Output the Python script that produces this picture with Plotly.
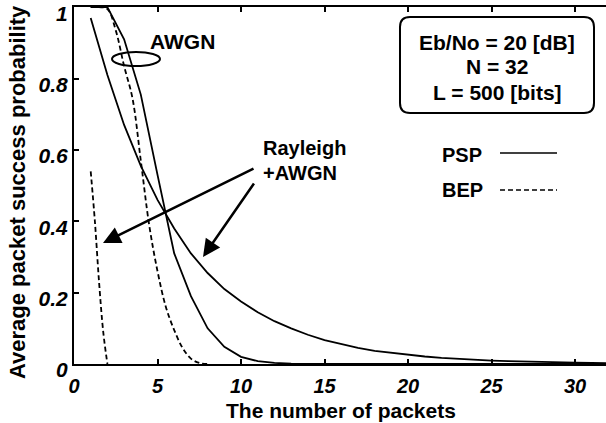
import plotly.graph_objects as go

# ---------------- data ----------------
psp_x = list(range(1, 33))
psp_awgn = [1.0, 1.0, 0.91, 0.755, 0.53, 0.31, 0.19, 0.10, 0.048, 0.02,
            0.008, 0.003, 0.001, 0.0, 0.0, 0.0, 0.0, 0.0, 0.0, 0.0,
            0.0, 0.0, 0.0, 0.0, 0.0, 0.0, 0.0, 0.0, 0.0, 0.0, 0.0, 0.0]
psp_rayleigh = [0.97, 0.81, 0.67, 0.555, 0.46, 0.38, 0.31, 0.255, 0.21, 0.175,
                0.145, 0.12, 0.10, 0.082, 0.067, 0.055, 0.045, 0.037, 0.031, 0.026,
                0.021, 0.017, 0.014, 0.012, 0.0095, 0.008, 0.0065, 0.0053, 0.0044, 0.0036,
                0.003, 0.0025]
bep_awgn_x = [1, 1.5, 2, 2.5, 3, 3.5, 4, 4.5, 5, 5.5, 6, 6.5, 7, 7.5, 8]
bep_awgn = [1.0, 1.0, 0.995, 0.935, 0.835, 0.745, 0.57, 0.39, 0.26, 0.16,
            0.095, 0.045, 0.015, 0.003, 0.0]
bep_rayleigh_x = [1, 1.25, 1.5, 1.75, 2]
bep_rayleigh = [0.54, 0.40, 0.23, 0.09, 0.0]

x_tick_vals = [0, 5, 10, 15, 20, 25, 30]
x_tick_text = ["0", "5", "10", "15", "20", "25", "30"]
y_tick_vals = [0, 0.2, 0.4, 0.6, 0.8, 1.0]
y_tick_text = ["0", "0.2", "0.4", "0.6", "0.8", "1"]

# ---------------- layout geometry ----------------
W, H = 606, 423
ML, MR, MT, MB = 74, 0, 7, 59
PW, PH = W - ML - MR, H - MT - MB
XMAX = 31.85
YMAX = 1.0005
FONT = "Liberation Sans"


def px(xp):  # pixel -> paper x
    return (xp - ML) / PW


def py(yp):  # pixel -> paper y
    return (H - MB - yp) / PH


def dx(xp):  # pixel -> data x
    return (xp - ML) / PW * XMAX


def dy(yp):  # pixel -> data y
    return (H - MB - yp) / PH * YMAX


def rounded_rect(x0, y0, x1, y1, r):
    pts = [
        ("M", [(x0 + r, y0)]),
        ("L", [(x1 - r, y0)]),
        ("Q", [(x1, y0), (x1, y0 + r)]),
        ("L", [(x1, y1 - r)]),
        ("Q", [(x1, y1), (x1 - r, y1)]),
        ("L", [(x0 + r, y1)]),
        ("Q", [(x0, y1), (x0, y1 - r)]),
        ("L", [(x0, y0 + r)]),
        ("Q", [(x0, y0), (x0 + r, y0)]),
    ]
    s = ""
    for cmd, ps in pts:
        s += cmd + " " + " ".join(f"{px(a):.5f},{py(b):.5f}" for a, b in ps) + " "
    return s + "Z"


line_style = dict(color="black", width=1.8)
dash_style = dict(color="black", width=1.8, dash="5px,3px")

fig = go.Figure()
fig.add_trace(go.Scatter(x=psp_x, y=psp_awgn, mode="lines", line=line_style, name="PSP AWGN"))
fig.add_trace(go.Scatter(x=psp_x, y=psp_rayleigh, mode="lines", line=line_style, name="PSP Rayleigh"))
fig.add_trace(go.Scatter(x=bep_awgn_x, y=bep_awgn, mode="lines", line=dash_style,
                         line_shape="spline", name="BEP AWGN"))
fig.add_trace(go.Scatter(x=bep_rayleigh_x, y=bep_rayleigh, mode="lines", line=dash_style,
                         line_shape="spline", name="BEP Rayleigh"))

txtfont = dict(family=FONT, size=21, color="black", weight="bold")
smallfont = dict(family=FONT, size=20, color="black", weight="bold")

annotations = [
    dict(text="The number of packets", x=px(341), y=py(410), xref="paper", yref="paper",
         showarrow=False, font=txtfont, xanchor="center", yanchor="middle"),
    dict(text="Average packet success probability", x=px(18), y=py(192), xref="paper",
         yref="paper", showarrow=False, font=dict(family=FONT, size=22, color="black", weight="bold"),
         textangle=-90, xanchor="center", yanchor="middle"),
    dict(text="AWGN", x=px(148), y=py(41), xref="paper", yref="paper", showarrow=False,
         font=txtfont, xanchor="left", yanchor="middle"),
    dict(text="Rayleigh", x=px(261), y=py(148), xref="paper", yref="paper", showarrow=False,
         font=smallfont, xanchor="left", yanchor="middle"),
    dict(text="+AWGN", x=px(261), y=py(173), xref="paper", yref="paper", showarrow=False,
         font=smallfont, xanchor="left", yanchor="middle"),
    dict(text="Eb/No = 20 [dB]", x=px(497), y=py(43), xref="paper", yref="paper",
         showarrow=False, font=txtfont, xanchor="center", yanchor="middle"),
    dict(text="N = 32", x=px(497), y=py(67), xref="paper", yref="paper",
         showarrow=False, font=txtfont, xanchor="center", yanchor="middle"),
    dict(text="L = 500 [bits]", x=px(497), y=py(92), xref="paper", yref="paper",
         showarrow=False, font=txtfont, xanchor="center", yanchor="middle"),
    dict(text="PSP", x=px(462), y=py(155), xref="paper", yref="paper", showarrow=False,
         font=smallfont, xanchor="center", yanchor="middle"),
    dict(text="BEP", x=px(462), y=py(190), xref="paper", yref="paper", showarrow=False,
         font=smallfont, xanchor="center", yanchor="middle"),
    # arrows
    dict(text="", x=dx(103), y=dy(243), ax=dx(255), ay=dy(168), xref="x", yref="y",
         axref="x", ayref="y", showarrow=True, arrowhead=2, arrowsize=1.4,
         arrowwidth=2.5, arrowcolor="black"),
    dict(text="", x=dx(203), y=dy(257), ax=dx(255), ay=dy(182), xref="x", yref="y",
         axref="x", ayref="y", showarrow=True, arrowhead=2, arrowsize=1.4,
         arrowwidth=2.5, arrowcolor="black"),
]

shapes = [
    # ellipse around AWGN curves
    dict(type="circle", xref="paper", yref="paper", x0=px(112), x1=px(160),
         y0=py(66), y1=py(52), line=dict(color="black", width=2)),
    # parameter box
    dict(type="path", xref="paper", yref="paper", path=rounded_rect(400, 17, 594, 113, 10),
         line=dict(color="black", width=2)),
    # legend samples
    dict(type="line", xref="paper", yref="paper", x0=px(500), x1=px(557),
         y0=py(153), y1=py(153), line=dict(color="black", width=1.5)),
    dict(type="line", xref="paper", yref="paper", x0=px(500), x1=px(557),
         y0=py(190), y1=py(190), line=dict(color="black", width=1.5, dash="5px,3px")),
]

fig.update_layout(
    width=W, height=H, autosize=False,
    margin=dict(l=ML, r=MR, t=MT, b=MB, pad=0),
    paper_bgcolor="white", plot_bgcolor="white",
    showlegend=False,
    annotations=annotations, shapes=shapes,
    xaxis=dict(range=[0, XMAX], tickvals=x_tick_vals, ticktext=x_tick_text,
               ticks="inside", ticklen=5, tickwidth=1.5, tickcolor="black",
               showline=True, linecolor="black", linewidth=2, mirror="ticks",
               showgrid=False, zeroline=False,
               tickfont=dict(family=FONT, size=20, color="black", weight="bold", style="italic"),
               ticklabelstandoff=3),
    yaxis=dict(range=[0, YMAX], tickvals=y_tick_vals, ticktext=y_tick_text,
               ticks="inside", ticklen=5, tickwidth=1.5, tickcolor="black",
               showline=True, linecolor="black", linewidth=2, mirror=False,
               showgrid=False, zeroline=False,
               tickfont=dict(family=FONT, size=21, color="black", weight="bold", style="italic"),
               ticklabelshift=6, ticklabelstandoff=0, ticklabeloverflow="allow"),
)

fig.write_html("out.html")
